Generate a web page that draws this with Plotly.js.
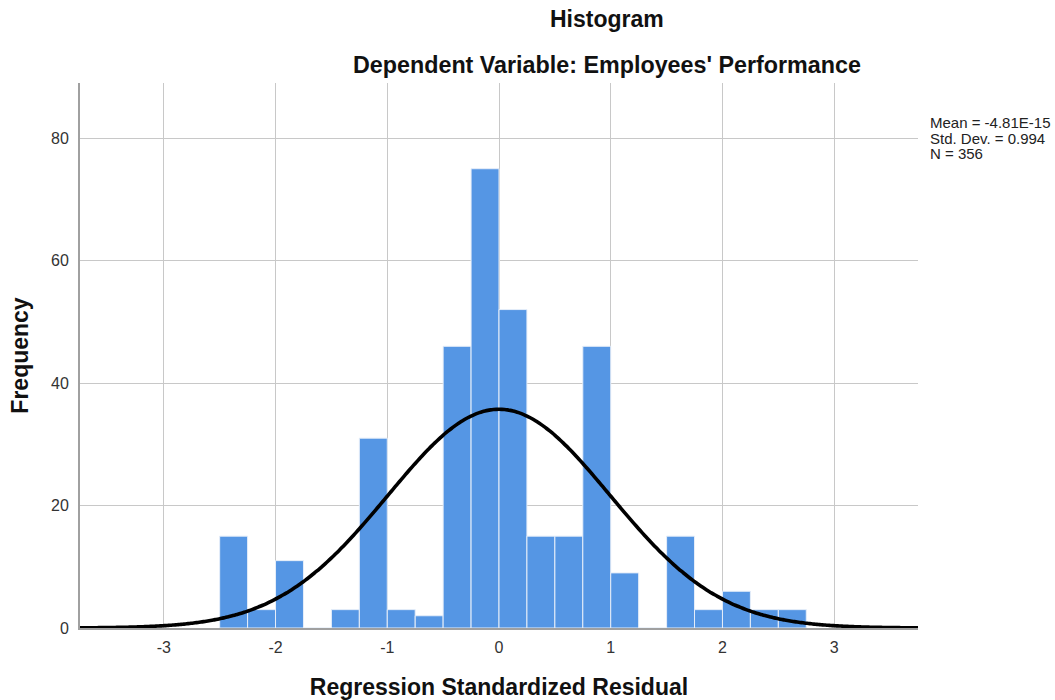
<!DOCTYPE html>
<html>
<head>
<meta charset="utf-8">
<script src="https://cdn.plot.ly/plotly-3.0.1.min.js"></script>
<style>
html,body{margin:0;padding:0;background:#fff;}
#chart{width:1055px;height:700px;}
</style>
</head>
<body>
<div id="chart"></div>
<script>
// Histogram bins (left edges, width 0.25) and frequencies
const binLeft = [-2.5, -2.25, -2.0, -1.75, -1.5, -1.25, -1.0, -0.75, -0.5, -0.25, 0.0, 0.25, 0.5, 0.75, 1.0, 1.25, 1.5, 1.75, 2.0, 2.25, 2.5];
const counts  = [15, 3, 11, 0, 3, 31, 3, 2, 46, 75, 52, 15, 15, 46, 9, 0, 15, 3, 6, 3, 3];
const binWidth = 0.25;

// Reported statistics
const statMean = -4.81e-15;
const statSD = 0.994;
const statN = 356;
const statLabels = ["Mean = -4.81E-15", "Std. Dev. = 0.994", "N = 356"];

const xTicks = [-3, -2, -1, 0, 1, 2, 3];
const yTicks = [0, 20, 40, 60, 80];

// Bin centres for the bar trace
const centers = binLeft.map(v => v + binWidth / 2);

// Normal curve overlay scaled to frequencies (N * binWidth * pdf)
const curveX = [];
const curveY = [];
for (let i = 0; i <= 300; i++) {
  const x = -3.76 + i * (7.52 / 300);
  const z = (x - statMean) / statSD;
  curveX.push(x);
  curveY.push(statN * binWidth * Math.exp(-0.5 * z * z) / (statSD * Math.sqrt(2 * Math.PI)));
}

const FONT = "Liberation Sans, Arial, sans-serif";

const data = [
  {
    type: "bar",
    x: centers,
    y: counts,
    width: binWidth,
    marker: {color: "#5596E4", line: {color: "#E6EEF9", width: 1}},
    hoverinfo: "x+y"
  },
  {
    type: "scatter",
    mode: "lines",
    x: curveX,
    y: curveY,
    line: {color: "#000000", width: 3.6, shape: "spline"},
    hoverinfo: "skip"
  }
];

const statAnnotations = statLabels.map((t, i) => ({
  xref: "paper", yref: "paper", x: 1, y: 1, xshift: 10, yshift: -29 - 15.5 * i,
  text: t, showarrow: false, align: "left",
  font: {size: 15, color: "#222", family: FONT}, xanchor: "left", yanchor: "top"
}));

const layout = {
  width: 1055,
  height: 700,
  margin: {l: 80, r: 137, t: 83, b: 72},
  paper_bgcolor: "#ffffff",
  plot_bgcolor: "#ffffff",
  showlegend: false,
  bargap: 0,
  font: {family: FONT, color: "#222"},
  xaxis: {
    range: [-3.75, 3.75],
    tickvals: xTicks,
    ticktext: xTicks.map(String),
    tickfont: {size: 16, color: "#333"},
    showgrid: true,
    gridcolor: "#C8C8C8",
    gridwidth: 1,
    zeroline: false,
    showline: true,
    linecolor: "#A0A0A0",
    linewidth: 2,
    ticks: "",
    ticklabelstandoff: 4,
    title: {text: "Regression Standardized Residual", font: {size: 23, color: "#111", family: FONT, weight: "bold"}, standoff: 25}
  },
  yaxis: {
    range: [0, 89],
    tickvals: yTicks,
    ticktext: yTicks.map(String),
    tickfont: {size: 16, color: "#333"},
    showgrid: true,
    gridcolor: "#C8C8C8",
    gridwidth: 1,
    zeroline: false,
    showline: true,
    linecolor: "#A0A0A0",
    linewidth: 2,
    ticks: "",
    ticklabelstandoff: 6,
    title: {text: "Frequency", font: {size: 23, color: "#111", family: FONT, weight: "bold"}, standoff: 16}
  },
  annotations: [
    {
      xref: "paper", yref: "paper", x: 0.629, y: 1, yshift: 64,
      text: "<b>Histogram</b>", showarrow: false,
      font: {size: 23, color: "#111", family: FONT}, xanchor: "center", yanchor: "middle"
    },
    {
      xref: "paper", yref: "paper", x: 0.629, y: 1, yshift: 18,
      text: "<b>Dependent Variable: Employees' Performance</b>", showarrow: false,
      font: {size: 23.3, color: "#111", family: FONT}, xanchor: "center", yanchor: "middle"
    }
  ].concat(statAnnotations)
};

Plotly.newPlot("chart", data, layout, {displayModeBar: false, staticPlot: true});
</script>
</body>
</html>
